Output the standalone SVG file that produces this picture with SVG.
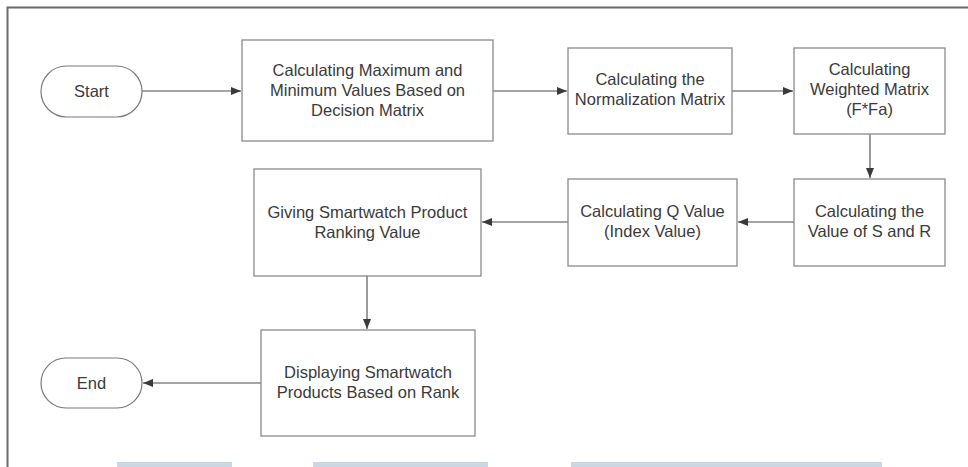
<svg xmlns="http://www.w3.org/2000/svg" width="968" height="467" viewBox="0 0 968 467">
  <style>
    .box { fill: #ffffff; stroke: #8a8a8a; stroke-width: 1.3; }
    .term { fill: #ffffff; stroke: #7a7a7a; stroke-width: 1.2; }
    .lbl { font-family: "Liberation Sans", Arial, sans-serif; font-size: 16.5px; fill: #3a3a3a; text-anchor: middle; }
    .edge { fill: none; stroke: #4a4a4a; stroke-width: 1.1; marker-end: url(#arrow); }
    .frame { fill: none; stroke: #6b6b6b; stroke-width: 2; }
    .band { fill: #cbd8e3; }
  </style>
  <defs>
    <marker id="arrow" viewBox="0 0 10 8" refX="10" refY="4" markerWidth="10" markerHeight="8" markerUnits="userSpaceOnUse" orient="auto">
      <path d="M0,0 L10,4 L0,8 Z" fill="#3a3a3a"/>
    </marker>
  </defs>

  <rect x="0" y="0" width="968" height="467" fill="#ffffff"/>

  <!-- outer frame -->
  <path class="frame" d="M7.5,467 V7.5 H968"/>

  <!-- bands along the bottom edge -->
  <rect class="band" x="117" y="462" width="115" height="5"/>
  <rect class="band" x="313" y="462" width="175" height="5"/>
  <rect class="band" x="571" y="462" width="311" height="5"/>

  <!-- connectors -->
  <g id="connectors">
    <path class="edge" d="M142,91 H241"/>
    <path class="edge" d="M493,91 H567"/>
    <path class="edge" d="M732,91 H793"/>
    <path class="edge" d="M870,134 V178"/>
    <path class="edge" d="M794,222 H738"/>
    <path class="edge" d="M568,222 H482"/>
    <path class="edge" d="M367,276 V329"/>
    <path class="edge" d="M261,383 H143"/>
  </g>

  <g id="start">
    <rect class="term" x="41" y="66" width="101" height="51" rx="25.5"/>
    <text class="lbl" x="91.5" y="97">Start</text>
  </g>

  <g id="min-max">
    <rect class="box" x="242" y="40" width="251" height="101"/>
    <text class="lbl" x="367.5" y="76">Calculating Maximum and</text>
    <text class="lbl" x="367.5" y="96">Minimum Values Based on</text>
    <text class="lbl" x="367.5" y="116">Decision Matrix</text>
  </g>

  <g id="normalization">
    <rect class="box" x="568" y="48" width="164" height="86"/>
    <text class="lbl" x="650" y="85">Calculating the</text>
    <text class="lbl" x="650" y="105">Normalization Matrix</text>
  </g>

  <g id="weighted">
    <rect class="box" x="794" y="48" width="151" height="86"/>
    <text class="lbl" x="869.5" y="75">Calculating</text>
    <text class="lbl" x="869.5" y="95">Weighted Matrix</text>
    <text class="lbl" x="869.5" y="115">(F*Fa)</text>
  </g>

  <g id="s-and-r">
    <rect class="box" x="794" y="179" width="151" height="87"/>
    <text class="lbl" x="869.5" y="217">Calculating the</text>
    <text class="lbl" x="869.5" y="237">Value of S and R</text>
  </g>

  <g id="q-value">
    <rect class="box" x="568" y="179" width="169" height="87"/>
    <text class="lbl" x="652.5" y="217">Calculating Q Value</text>
    <text class="lbl" x="652.5" y="237">(Index Value)</text>
  </g>

  <g id="ranking">
    <rect class="box" x="254" y="169" width="227" height="107"/>
    <text class="lbl" x="367.5" y="218">Giving Smartwatch Product</text>
    <text class="lbl" x="367.5" y="238">Ranking Value</text>
  </g>

  <g id="display">
    <rect class="box" x="261" y="330" width="214" height="106"/>
    <text class="lbl" x="368" y="378">Displaying Smartwatch</text>
    <text class="lbl" x="368" y="398">Products Based on Rank</text>
  </g>

  <g id="end">
    <rect class="term" x="41" y="358" width="101" height="50" rx="25"/>
    <text class="lbl" x="91.5" y="389">End</text>
  </g>
</svg>
